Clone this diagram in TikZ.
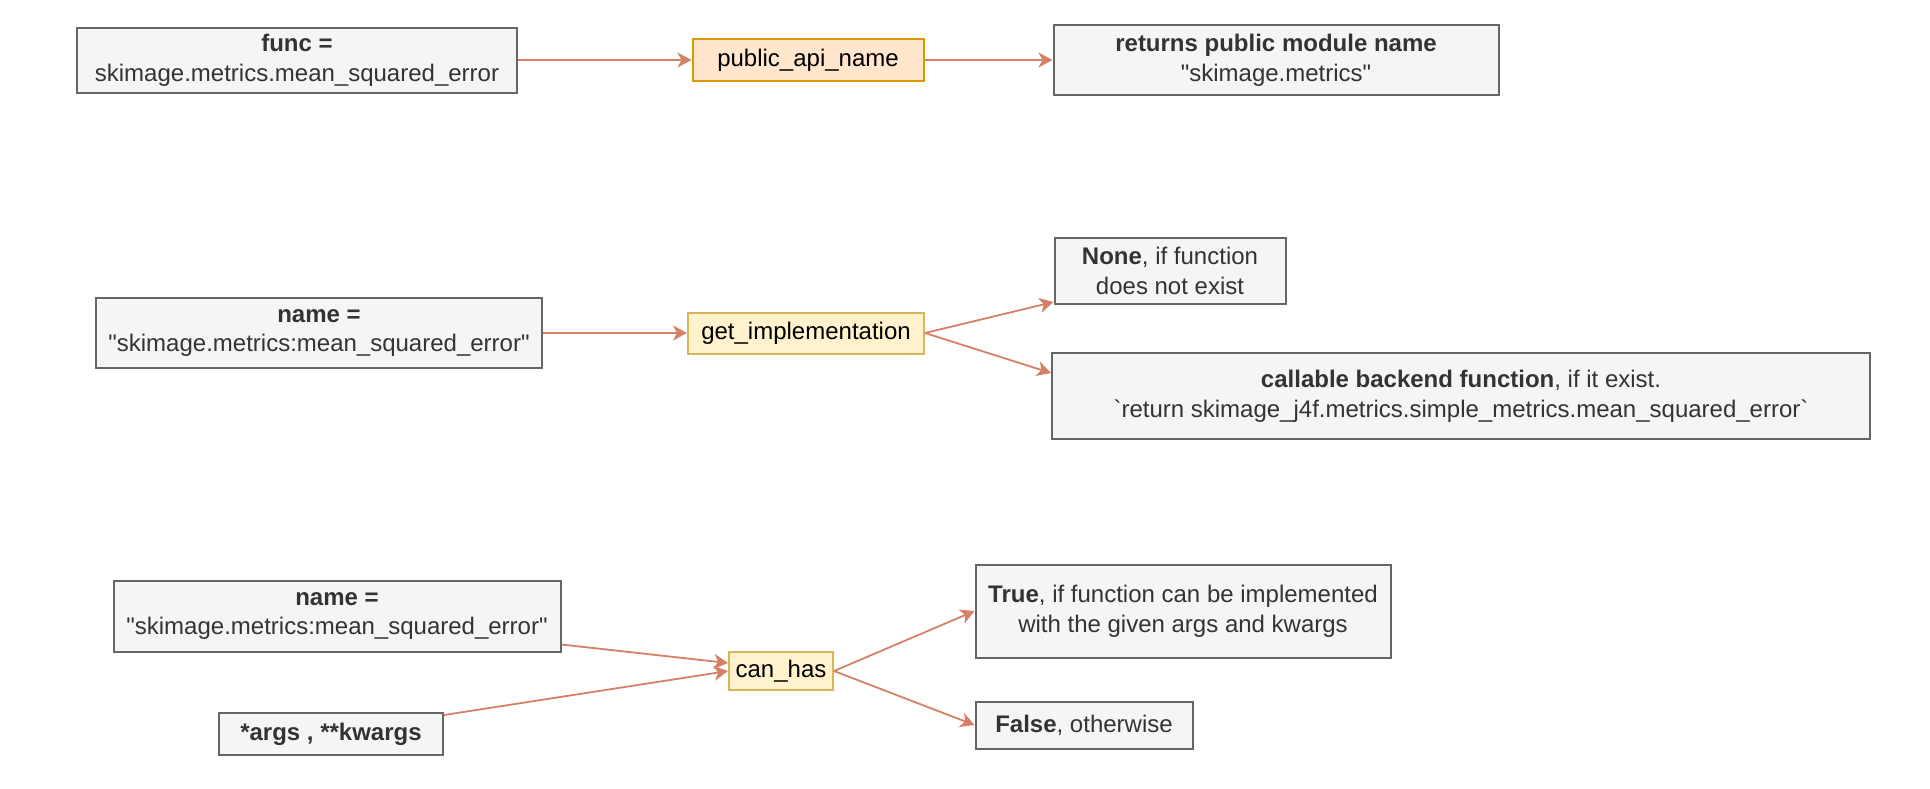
\documentclass[tikz,border=0pt]{standalone}
\usepackage{fontspec}
\setmainfont{Liberation Sans}[Ligatures=TeXOff]
\usetikzlibrary{arrows.meta}
\definecolor{boxfill}{HTML}{F5F5F5}
\definecolor{boxline}{HTML}{666666}
\definecolor{boxtext}{HTML}{333333}
\definecolor{apifill}{HTML}{FFE6CC}
\definecolor{apiline}{HTML}{D79B00}
\definecolor{fnfill}{HTML}{FFF2CC}
\definecolor{fnline}{HTML}{D6B656}
\definecolor{flow}{RGB}{214,128,104}
\begin{document}
\begin{tikzpicture}[x=0.5pt,y=-0.5pt,
	font=\fontsize{12}{14.8}\selectfont,
	gbox/.style={draw=boxline,fill=boxfill,text=boxtext,line width=1pt,align=center,inner sep=0pt},
	fnbox/.style={draw=fnline,fill=fnfill,text=black,line width=1pt,align=center,inner sep=0pt},
	flowline/.style={draw=flow,line width=0.9pt,-{Stealth[length=7pt,width=7.5pt,inset=2pt]}}]
	\useasboundingbox (0,0) rectangle (1930,788);
	% top row
	\node [gbox,minimum width=220pt,minimum height=32.5pt] (func) at (297,60) {\textbf{func =}\\skimage.metrics.mean\_squared\_error};
	\node [fnbox,fill=apifill,draw=apiline,minimum width=115.5pt,minimum height=21pt] (api) at (808,60) {public\_api\_name};
	\node [gbox,minimum width=222.5pt,minimum height=35pt] (ret) at (1276,60) {\textbf{returns public module name}\\"skimage.metrics"};
	% middle row
	\node [gbox,minimum width=223pt,minimum height=35pt] (name1) at (319,333) {\textbf{name =}\\"skimage.metrics:mean\_squared\_error"};
	\node [fnbox,minimum width=118pt,minimum height=20.5pt] (getimpl) at (806,333) {get\_implementation};
	\node [gbox,minimum width=115.5pt,minimum height=33pt] (none) at (1170,271) {\textbf{None}, if function\\does not exist};
	\node [gbox,minimum width=409pt,minimum height=43pt] (callable) at (1461,396) {\textbf{callable backend function}, if it exist.\\`return skimage\_j4f.metrics.simple\_metrics.mean\_squared\_error`};
	% bottom row
	\node [gbox,minimum width=223.5pt,minimum height=35.5pt] (name2) at (337,616) {\textbf{name =}\\"skimage.metrics:mean\_squared\_error"};
	\node [gbox,minimum width=112pt,minimum height=21pt] (args) at (331,734) {\textbf{*args , **kwargs}};
	\node [fnbox,minimum width=52pt,minimum height=19pt] (canhas) at (781,671) {can\_has};
	\node [gbox,minimum width=207.5pt,minimum height=46.5pt] (true) at (1183,611) {\textbf{True}, if function can be implemented\\with the given args and kwargs};
	\node [gbox,minimum width=108.5pt,minimum height=23.5pt] (false) at (1084,725) {\textbf{False}, otherwise};
	% connectors
	\draw [flowline] (func.east) -- (api.west);
	\draw [flowline] (api.east) -- (ret.west);
	\draw [flowline] (name1.east) -- (getimpl.west);
	\draw [flowline] (getimpl.east) -- ([yshift=1.5pt]none.south west);
	\draw [flowline] (getimpl.east) -- ([yshift=-10.5pt]callable.north west);
	\draw [flowline] ([yshift=4pt]name2.south east) -- ([yshift=-6pt]canhas.north west);
	\draw [flowline] ([yshift=-1.5pt]args.north east) -- ([yshift=-10pt]canhas.north west);
	\draw [flowline] (canhas.east) -- (true.west);
	\draw [flowline] (canhas.east) -- (false.west);
\end{tikzpicture}
\end{document}
